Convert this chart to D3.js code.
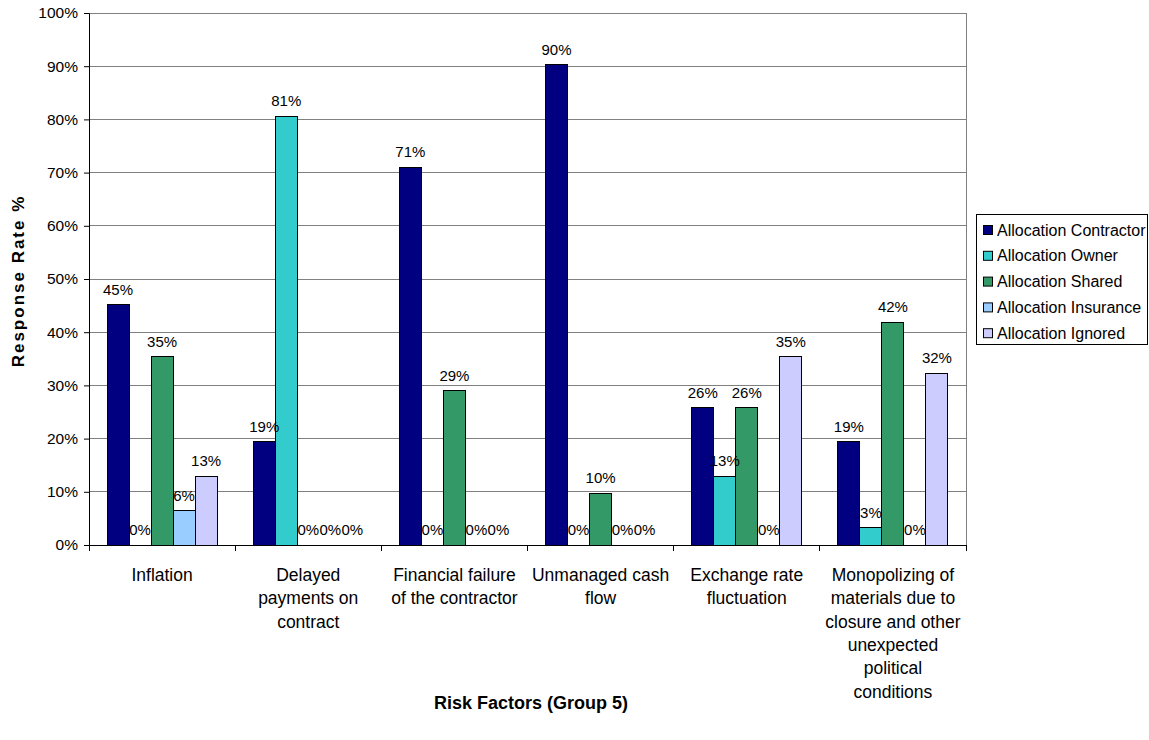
<!DOCTYPE html>
<html>
<head>
<meta charset="utf-8">
<script src="https://cdn.jsdelivr.net/npm/d3@7"></script>
<style>
  body { margin: 0; background: #fff; }
  svg { font-family: Arial, "Liberation Sans", sans-serif; }
</style>
</head>
<body>
<svg id="chart" width="1149" height="740"></svg>
<script>
const categories = [
  ["Inflation"],
  ["Delayed", "payments on", "contract"],
  ["Financial failure", "of the contractor"],
  ["Unmanaged cash", "flow"],
  ["Exchange rate", "fluctuation"],
  ["Monopolizing of", "materials due to", "closure and other", "unexpected", "political", "conditions"]
];
const seriesNames = ["Allocation Contractor", "Allocation Owner", "Allocation Shared", "Allocation Insurance", "Allocation Ignored"];
const contractor = [45.2, 19.4, 71.0, 90.3, 25.8, 19.4];
const owner      = [0, 80.6, 0, 0, 12.9, 3.2];
const shared     = [35.4, 0, 29.0, 9.7, 25.8, 41.9];
const insurance  = [6.4, 0, 0, 0, 0, 0];
const ignored    = [12.9, 0, 0, 0, 35.4, 32.3];
const yTicks = [0, 10, 20, 30, 40, 50, 60, 70, 80, 90, 100];
const colors = ["#000080", "#33CCCC", "#339966", "#99CCFF", "#CCCCFF"];

const series = [contractor, owner, shared, insurance, ignored];

const svg = d3.select("#chart");
const m = { left: 89, top: 13, right: 966, bottom: 545 };

const x0 = d3.scaleBand().domain(d3.range(categories.length)).range([m.left, m.right]).paddingInner(0).paddingOuter(0);
const x1 = d3.scaleBand().domain(d3.range(seriesNames.length)).range([0, x0.bandwidth()]).paddingOuter(0.82).paddingInner(0);
const y = d3.scaleLinear().domain([0, 100]).range([m.bottom, m.top]);

// gridlines
svg.append("g").selectAll("line").data(yTicks.filter(t => t > 0)).join("line")
  .attr("x1", m.left).attr("x2", m.right)
  .attr("y1", d => y(d)).attr("y2", d => y(d))
  .attr("stroke", "#808080").attr("stroke-width", 1).attr("shape-rendering", "crispEdges");

// right border
svg.append("line").attr("x1", m.right).attr("x2", m.right).attr("y1", m.top).attr("y2", m.bottom)
  .attr("stroke", "#808080").attr("shape-rendering", "crispEdges");

// bars
const groups = svg.append("g").selectAll("g").data(categories).join("g")
  .attr("transform", (d, i) => `translate(${x0(i)},0)`);

groups.each(function(c, ci) {
  const g = d3.select(this);
  series.forEach((s, si) => {
    const v = s[ci];
    if (v > 0) {
      g.append("rect")
        .attr("x", x1(si)).attr("width", x1.bandwidth())
        .attr("y", y(v)).attr("height", y(0) - y(v))
        .attr("fill", colors[si]).attr("stroke", "#000").attr("stroke-width", 1)
        .attr("shape-rendering", "crispEdges");
    }
  });
  series.forEach((s, si) => {
    const v = s[ci];
    g.append("text")
      .attr("x", x1(si) + x1.bandwidth() / 2)
      .attr("y", y(v) - 10)
      .attr("text-anchor", "middle")
      .attr("font-size", 15)
      .attr("fill", "#000")
      .text(Math.round(v) + "%");
  });
});

// y axis
const yAxis = d3.axisLeft(y).tickValues(yTicks).tickSize(5).tickFormat(d => d + "%");
const ya = svg.append("g").attr("transform", `translate(${m.left},0)`).call(yAxis);
ya.select(".domain").attr("stroke", "#000");
ya.selectAll(".tick line").attr("stroke", "#000");
ya.selectAll("text").attr("font-size", 15.5).attr("font-family", "Arial, 'Liberation Sans', sans-serif").attr("fill", "#000").attr("x", -11);

// x axis line + ticks at boundaries
svg.append("line").attr("x1", m.left).attr("x2", m.right).attr("y1", m.bottom).attr("y2", m.bottom)
  .attr("stroke", "#000").attr("shape-rendering", "crispEdges");
const bounds = d3.range(categories.length + 1).map(i => i < categories.length ? x0(i) : x0(i - 1) + x0.bandwidth());
svg.append("g").selectAll("line").data(bounds).join("line")
  .attr("x1", d => d).attr("x2", d => d).attr("y1", m.bottom).attr("y2", m.bottom + 6)
  .attr("stroke", "#000").attr("shape-rendering", "crispEdges");

// category labels
categories.forEach((lines, i) => {
  const cx = x0(i) + x0.bandwidth() / 2;
  const t = svg.append("text").attr("text-anchor", "middle").attr("font-size", 17.5).attr("fill", "#000");
  lines.forEach((ln, li) => {
    t.append("tspan").attr("x", cx).attr("y", 581 + li * 23.3).text(ln);
  });
});

// axis titles
svg.append("text").attr("x", 531).attr("y", 709)
  .attr("text-anchor", "middle").attr("font-size", 18).attr("font-weight", "bold").text("Risk Factors (Group 5)");
svg.append("text").attr("transform", `translate(24,${281}) rotate(-90)`)
  .attr("text-anchor", "middle").attr("font-size", 17).attr("font-weight", "bold").attr("letter-spacing", 2).text("Response Rate %");

// legend
const lg = svg.append("g");
lg.append("rect").attr("x", 976.5).attr("y", 214.5).attr("width", 171).attr("height", 130)
  .attr("fill", "#fff").attr("stroke", "#000");
seriesNames.forEach((n, i) => {
  const yy = 230 + i * 25.8;
  lg.append("rect").attr("x", 983.5).attr("y", yy - 4.5).attr("width", 9).attr("height", 9)
    .attr("fill", colors[i]).attr("stroke", "#000");
  lg.append("text").attr("x", 997).attr("y", yy + 5.5).attr("font-size", 16).attr("fill", "#000").text(n);
});
</script>
</body>
</html>
